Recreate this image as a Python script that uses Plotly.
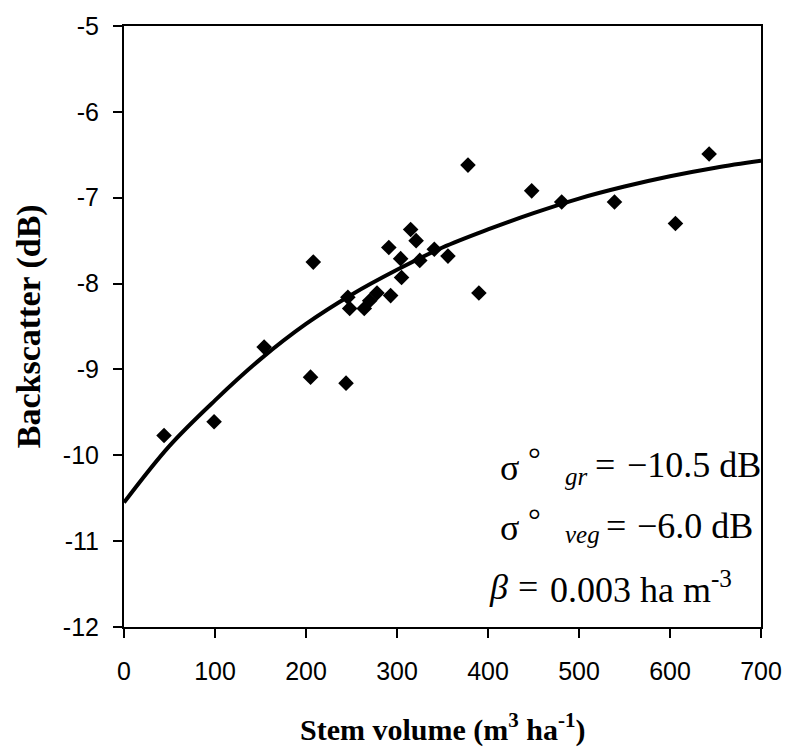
import plotly.graph_objects as go

# Observed data (stem volume m3/ha, backscatter dB)
stem_volume = [44, 99, 154, 205, 208, 244, 246, 248, 264, 270, 278, 291, 293,
               304, 305, 315, 321, 325, 341, 356, 378, 390, 448, 481, 539, 606, 643]
backscatter = [-9.77, -9.61, -8.74, -9.09, -7.75, -9.16, -8.16, -8.29, -8.29, -8.20,
               -8.11, -7.58, -8.14, -7.71, -7.93, -7.37, -7.50, -7.73, -7.60, -7.68,
               -6.62, -8.11, -6.92, -7.05, -7.05, -7.30, -6.49]

# Model curve
curve_volume = [0, 50, 100, 150, 200, 250, 300, 350, 400, 450, 500, 550, 600, 650, 700]
curve_backscatter = [-10.55, -9.89, -9.36, -8.88, -8.47, -8.13, -7.84, -7.58, -7.37,
                     -7.18, -7.01, -6.87, -6.75, -6.65, -6.57]

x_ticks = [0, 100, 200, 300, 400, 500, 600, 700]
y_ticks = [-5, -6, -7, -8, -9, -10, -11, -12]

# Layout geometry (pixels)
W, H = 794, 752
L, R, T, B = 124, 766, 23, 627


def paper_x(px):
    return (px - L) / (R - L)


def paper_y(py):
    return (B - py) / (B - T)


fig = go.Figure()
fig.add_trace(go.Scatter(x=curve_volume, y=curve_backscatter, mode="lines",
                         line=dict(color="black", width=4, shape="spline"),
                         showlegend=False, hoverinfo="skip"))
fig.add_trace(go.Scatter(x=stem_volume, y=backscatter, mode="markers",
                         marker=dict(symbol="diamond", color="black", size=12),
                         showlegend=False))

serif = "Liberation Serif"


def put(text, px, py, size=36, anchor="left", angle=0):
    fig.add_annotation(x=paper_x(px), y=paper_y(py), xref="paper", yref="paper",
                       xanchor=anchor, yanchor="middle", text=text, showarrow=False,
                       textangle=angle,
                       font=dict(family=serif, size=size, color="black"),
                       borderpad=0)


# line 1: sigma_gr
put("σ", 502, 467)
put("°", 530, 458, size=32)
put("<i>gr</i>", 567, 476, size=25)
put("=", 598, 464)
put("−10.5 dB", 767, 464, anchor="right")
# line 2: sigma_veg
put("σ", 502, 528)
put("°", 530, 519, size=32)
put("<i>veg</i>", 567, 534, size=25)
put("=", 609, 525)
put("−6.0 dB", 759, 525, anchor="right")
# line 3: beta
put("<i>β</i>", 491, 587)
put("=", 520, 587)
put("0.003 ha m<sup>-3</sup>", 552, 587)

# axis titles
put("<b>Stem volume (m<sup>3</sup> ha<sup>-1</sup>)</b>", (L + R) / 2, 728, size=30,
    anchor="center")
put("<b>Backscatter (dB)</b>", 28, (T + B) / 2, size=34, anchor="center", angle=-90)

axis_common = dict(showline=True, linecolor="black", linewidth=2, mirror=True,
                   ticks="outside", ticklen=9, tickwidth=1.5, tickcolor="black",
                   showgrid=False, zeroline=False, ticklabeloverflow="allow",
                   tickfont=dict(family="Liberation Sans", size=25, color="black"))

fig.update_xaxes(range=[0, 700], tickvals=x_ticks, ticktext=[str(v) for v in x_ticks],
                 ticklabelstandoff=12, **axis_common)
fig.update_yaxes(range=[-12, -5], tickvals=y_ticks, ticktext=[str(v) for v in y_ticks],
                 ticklabelstandoff=9, **axis_common)

fig.update_layout(width=W, height=H, plot_bgcolor="white", paper_bgcolor="white",
                  margin=dict(l=L, r=W - R, t=T, b=H - B))

fig.write_html("out.html", config={"displayModeBar": False},
               post_script="document.body.style.margin='0px';")
